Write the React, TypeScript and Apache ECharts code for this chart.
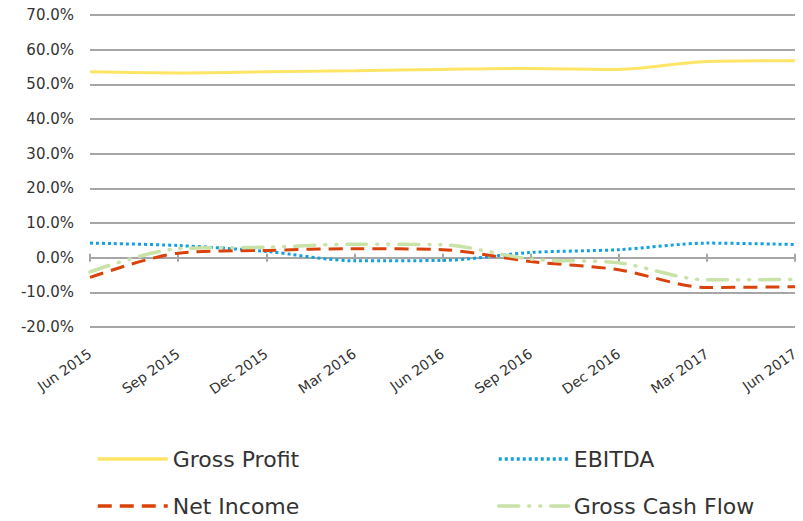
import React, { useEffect, useRef } from "react";
import * as echarts from "echarts";

const categories = ["Jun 2015", "Sep 2015", "Dec 2015", "Mar 2016", "Jun 2016", "Sep 2016", "Dec 2016", "Mar 2017", "Jun 2017"];
const grossProfit = [53.6, 53.3, 53.6, 53.9, 54.3, 54.6, 54.3, 56.6, 56.8];
const ebitda = [4.2, 3.5, 1.8, -0.9, -0.8, 1.5, 2.3, 4.2, 3.8];
const netIncome = [-5.7, 1.3, 2.1, 2.6, 2.3, -1.1, -3.5, -8.6, -8.4];
const grossCashFlow = [-4.1, 2.6, 3.0, 3.9, 3.7, -0.4, -1.5, -6.4, -6.3];

const FONT = "'DejaVu Sans', sans-serif";
const TEXT = "#333333";

export default function App() {
  const ref = useRef<HTMLDivElement>(null);
  useEffect(() => {
    if (!ref.current) return;
    const chart = echarts.init(ref.current, undefined, { renderer: "svg" });
    const legendBase = {
      itemWidth: 70,
      itemHeight: 14,
      itemGap: 0,
      itemStyle: { opacity: 0 },
      lineStyle: { width: 3.5 },
      textStyle: { fontFamily: FONT, fontSize: 22, color: TEXT },
    };
    chart.setOption({
      animation: false,
      backgroundColor: "#ffffff",
      grid: { left: 90, right: 8, top: 15, bottom: 194, containLabel: false },
      legend: [
        { ...legendBase, data: ["Gross Profit"], left: 91, top: 443 },
        { ...legendBase, data: ["EBITDA"], left: 492, top: 443 },
        { ...legendBase, data: ["Net Income"], left: 91, top: 490 },
        { ...legendBase, data: ["Gross Cash Flow"], left: 492, top: 490 },
      ],
      xAxis: [
        {
          type: "category",
          data: categories,
          boundaryGap: false,
          axisLine: { show: false, onZero: false },
          axisTick: { show: false },
          axisLabel: {
            rotate: 35,
            margin: 25,
            fontFamily: FONT,
            fontSize: 14,
            color: TEXT,
            interval: 0,
          },
        },
        {
          type: "category",
          data: categories,
          boundaryGap: false,
          position: "bottom",
          axisLine: { show: true, onZero: true, onZeroAxisIndex: 0, lineStyle: { color: "#a6a6a6", width: 2 } },
          axisTick: { show: true, inside: false, length: 4, interval: 0, lineStyle: { color: "#a6a6a6", width: 2 } },
          axisLabel: { show: false },
        },
        {
          type: "category",
          data: categories,
          boundaryGap: false,
          position: "bottom",
          axisLine: { show: false, onZero: true, onZeroAxisIndex: 0 },
          axisTick: { show: true, inside: true, length: 4, interval: 0, lineStyle: { color: "#a6a6a6", width: 2 } },
          axisLabel: { show: false },
        },
      ],
      yAxis: {
        type: "value",
        min: -20,
        max: 70,
        interval: 10,
        axisLine: { show: false },
        axisTick: { show: false },
        splitLine: { lineStyle: { color: "#a6a6a6", width: 2 } },
        axisLabel: {
          formatter: (v: number) => v.toFixed(1) + "%",
          fontFamily: FONT,
          fontSize: 15,
          color: TEXT,
          margin: 16,
        },
      },
      series: [
        {
          name: "Gross Profit",
          type: "line",
          data: grossProfit,
          smooth: 0.3,
          symbol: "none",
          lineStyle: { color: "#FFE566", width: 3 },
          itemStyle: { color: "#FFE566" },
        },
        {
          name: "EBITDA",
          type: "line",
          data: ebitda,
          smooth: 0.3,
          symbol: "none",
          lineStyle: { color: "#14A0DE", width: 3, type: [3, 3] },
          itemStyle: { color: "#14A0DE" },
        },
        {
          name: "Net Income",
          type: "line",
          data: netIncome,
          smooth: 0.3,
          symbol: "none",
          lineStyle: { color: "#D9420B", width: 3, type: [14, 8] },
          itemStyle: { color: "#D9420B" },
        },
        {
          name: "Gross Cash Flow",
          type: "line",
          data: grossCashFlow,
          smooth: 0.3,
          symbol: "none",
          lineStyle: { color: "#C8E2A8", width: 3.5, type: [20, 10, 1, 10, 1, 10], cap: "round" },
          itemStyle: { color: "#C8E2A8" },
        },
      ],
    });
    return () => chart.dispose();
  }, []);
  return <div ref={ref} style={{ width: 803, height: 521, position: "absolute", left: 0, top: 0 }} />;
}
